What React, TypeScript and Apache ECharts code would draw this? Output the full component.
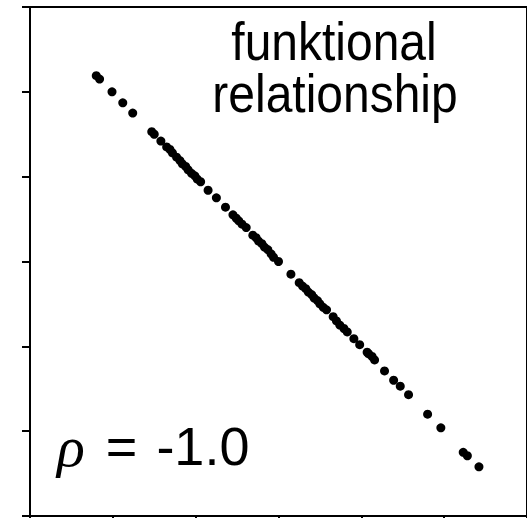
import React, { useEffect, useRef } from "react";
import * as echarts from "echarts";

// Sample positions along the perfect negative relationship
const xValues = [
  0.8, 0.84, 0.99, 1.12, 1.24, 1.47, 1.5, 1.58, 1.65, 1.69, 1.72, 1.77, 1.81, 1.84,
  1.88, 1.91, 1.95, 1.99, 2.02, 2.06, 2.15, 2.25, 2.36, 2.45, 2.49, 2.52, 2.56, 2.61,
  2.69, 2.73, 2.76, 2.8, 2.83, 2.87, 2.91, 2.94, 3.0, 3.15, 3.25, 3.29, 3.33, 3.36,
  3.4, 3.43, 3.47, 3.5, 3.54, 3.58, 3.66, 3.7, 3.74, 3.79, 3.83, 3.91, 3.98, 4.07,
  4.09, 4.13, 4.16, 4.28, 4.39, 4.47, 4.57, 4.8, 4.96, 5.23, 5.28, 5.42,
];
const yValues = [
  5.19, 5.15, 5.0, 4.87, 4.75, 4.53, 4.5, 4.42, 4.35, 4.32, 4.28, 4.23, 4.19, 4.15,
  4.12, 4.08, 4.04, 4.01, 3.97, 3.94, 3.84, 3.75, 3.64, 3.55, 3.51, 3.48, 3.44, 3.4,
  3.31, 3.28, 3.24, 3.21, 3.17, 3.14, 3.09, 3.05, 3.0, 2.85, 2.75, 2.71, 2.68, 2.64,
  2.61, 2.57, 2.54, 2.5, 2.46, 2.43, 2.35, 2.3, 2.25, 2.21, 2.17, 2.09, 2.02, 1.93,
  1.91, 1.88, 1.84, 1.71, 1.6, 1.53, 1.43, 1.2, 1.04, 0.75, 0.71, 0.58,
];

const titleLines = ["funktional", "relationship"];
const rhoLabel = "-1.0";

export default function App() {
  const ref = useRef<HTMLDivElement>(null);

  useEffect(() => {
    if (!ref.current) return;
    const chart = echarts.init(ref.current, undefined, { renderer: "svg" });
    const points = xValues.map((x, i) => [x, yValues[i]]);
    const font = "'Liberation Sans', Arial, Helvetica, sans-serif";

    const titleText = (text: string, x: number, y: number) => ({
      type: "text",
      x,
      y,
      scaleY: 1.1,
      style: {
        text,
        x: 0,
        y: 0,
        align: "center",
        verticalAlign: "bottom",
        font: `48px ${font}`,
        fill: "#000",
      },
    });

    chart.setOption({
      animation: false,
      backgroundColor: "#fff",
      grid: {
        left: 30,
        top: 7,
        width: 502,
        height: 509,
        show: true,
        borderColor: "#000",
        borderWidth: 2,
        backgroundColor: "transparent",
      },
      xAxis: {
        type: "value",
        min: 0,
        max: 6,
        interval: 1,
        axisLine: { show: true, onZero: false, lineStyle: { color: "#000", width: 2 } },
        axisTick: { show: true, inside: false, length: 8, lineStyle: { color: "#000", width: 2 } },
        axisLabel: { show: false },
        splitLine: { show: false },
      },
      yAxis: {
        type: "value",
        min: 0,
        max: 6,
        interval: 1,
        axisLine: { show: true, onZero: false, lineStyle: { color: "#000", width: 2 } },
        axisTick: { show: true, inside: false, length: 8, lineStyle: { color: "#000", width: 2 } },
        axisLabel: { show: false },
        splitLine: { show: false },
      },
      series: [
        {
          type: "scatter",
          data: points,
          symbol: "circle",
          symbolSize: 9,
          itemStyle: { color: "#000", opacity: 1 },
          silent: true,
        },
      ],
      graphic: [
        titleText(titleLines[0], 334, 68),
        titleText(titleLines[1], 335, 120),
        {
          type: "text",
          style: {
            text: "{rho|ρ}{eq| =}{rest| " + rhoLabel + "}",
            x: 57,
            y: 475,
            align: "left",
            verticalAlign: "bottom",
            rich: {
              rho: {
                font: `italic 58px 'Liberation Serif', 'DejaVu Serif', serif`,
                fill: "#000",
                padding: [0, 6, 0, 0],
              },
              eq: {
                font: `54px ${font}`,
                fill: "#000",
                padding: [0, 4, 0, 0],
              },
              rest: {
                font: `54px ${font}`,
                fill: "#000",
              },
            },
          },
        },
      ],
    });

    return () => chart.dispose();
  }, []);

  return <div ref={ref} style={{ width: 527, height: 518, position: "absolute", left: 0, top: 0 }} />;
}
